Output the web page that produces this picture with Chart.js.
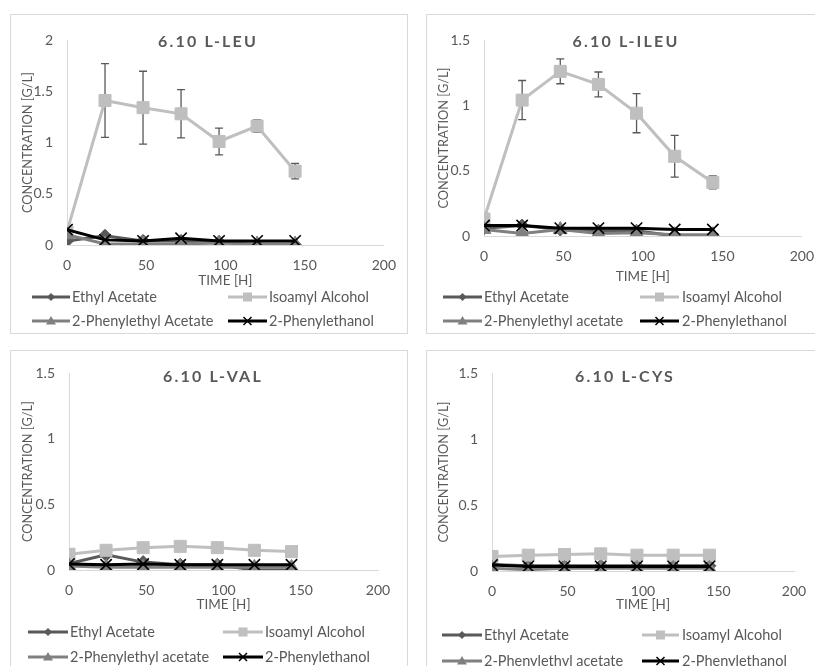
<!DOCTYPE html>
<html>
<head>
<meta charset="utf-8">
<script src="https://cdn.jsdelivr.net/npm/chart.js@4/dist/chart.umd.min.js"></script>
<style>
  body { margin: 0; background: #fff; width: 815px; height: 666px; overflow: hidden; position: relative; }
  .box { position: absolute; border: 1px solid #d9d9d9; box-sizing: border-box; }
  canvas { position: absolute; }
</style>
</head>
<body>
<div class="box" style="left:10px;top:14px;width:398px;height:320px"></div>
<div class="box" style="left:426px;top:14px;width:400px;height:320px"></div>
<div class="box" style="left:10px;top:350px;width:398px;height:330px"></div>
<div class="box" style="left:426px;top:350px;width:400px;height:330px"></div>
<canvas id="c1" width="398" height="320" style="left:10px;top:14px"></canvas>
<canvas id="c2" width="400" height="320" style="left:426px;top:14px"></canvas>
<canvas id="c3" width="398" height="330" style="left:10px;top:350px"></canvas>
<canvas id="c4" width="400" height="330" style="left:426px;top:350px"></canvas>
<script>
const TIMES = [0, 24, 48, 72, 96, 120, 144];
const X_TICKS = [0, 50, 100, 150, 200];

// 6.10 L-LEU
const leuEthylAcetate = [0.04, 0.09, 0.04, 0.04, 0.03, 0.00, 0.00];
const leuIsoamyl = [0.13, 1.41, 1.34, 1.28, 1.01, 1.16, 0.72];
const leuIsoamylErr = [0, 0.36, 0.355, 0.235, 0.13, 0.06, 0.075];
const leuPEAcetate = [0.10, 0.01, 0.01, 0.01, 0.02, 0.01, 0.01];
const leuPhenylethanol = [0.15, 0.05, 0.04, 0.065, 0.04, 0.04, 0.04];

// 6.10 L-ILEU
const ileuEthylAcetate = [0.06, 0.08, 0.05, 0.04, 0.04, 0.00, 0.00];
const ileuIsoamyl = [0.13, 1.04, 1.26, 1.16, 0.94, 0.61, 0.41];
const ileuIsoamylErr = [0, 0.15, 0.095, 0.095, 0.15, 0.16, 0.05];
const ileuPEAcetate = [0.05, 0.02, 0.05, 0.02, 0.025, 0.01, 0.01];
const ileuPhenylethanol = [0.08, 0.08, 0.06, 0.06, 0.06, 0.05, 0.05];

// 6.10 L-VAL
const valEthylAcetate = [0.05, 0.115, 0.06, 0.04, 0.04, 0.00, 0.00];
const valIsoamyl = [0.12, 0.15, 0.17, 0.18, 0.17, 0.15, 0.14];
const valPEAcetate = [0.03, 0.02, 0.02, 0.02, 0.02, 0.02, 0.02];
const valPhenylethanol = [0.045, 0.04, 0.045, 0.04, 0.04, 0.04, 0.04];

// 6.10 L-CYS
const cysEthylAcetate = [0.05, 0.04, 0.04, 0.04, 0.04, 0.04, 0.04];
const cysIsoamyl = [0.11, 0.12, 0.125, 0.13, 0.12, 0.12, 0.12];
const cysPEAcetate = [0.02, 0.01, 0.02, 0.02, 0.02, 0.02, 0.02];
const cysPhenylethanol = [0.045, 0.035, 0.035, 0.035, 0.035, 0.035, 0.035];

const TEXT = '#595959';
const FONT = 'Lato, "Open Sans", sans-serif';

const SERIES_STYLE = [
  { color: '#595959', style: 'rectRot', r: 6.5, order: 3 },
  { color: '#bfbfbf', style: 'rect', r: 8.5, order: 2 },
  { color: '#808080', style: 'triangle', r: 8, order: 1 },
  { color: '#000000', style: 'crossRot', r: 8, order: 0 }
];

function legendMarker(ctx, style, x, y, color) {
  ctx.fillStyle = color;
  ctx.strokeStyle = color;
  ctx.beginPath();
  if (style === 'rectRot') {
    ctx.moveTo(x, y - 4); ctx.lineTo(x + 4, y); ctx.lineTo(x, y + 4); ctx.lineTo(x - 4, y);
    ctx.closePath(); ctx.fill();
  } else if (style === 'rect') {
    ctx.fillRect(x - 4.5, y - 4.5, 9, 9);
  } else if (style === 'triangle') {
    ctx.moveTo(x, y - 5); ctx.lineTo(x + 5, y + 3.5); ctx.lineTo(x - 5, y + 3.5);
    ctx.closePath(); ctx.fill();
  } else {
    ctx.lineWidth = 1.5;
    ctx.moveTo(x - 4, y - 4); ctx.lineTo(x + 4, y + 4);
    ctx.moveTo(x + 4, y - 4); ctx.lineTo(x - 4, y + 4);
    ctx.stroke();
  }
}

const panelDecor = {
  id: 'panelDecor',
  beforeDatasetsDraw(chart, args, o) {
    if (!o.err) return;
    const { ctx, scales: { x, y } } = chart;
    const vals = chart.data.datasets[1].data;
    ctx.save();
    ctx.strokeStyle = TEXT;
    ctx.lineWidth = 1.3;
    o.err.forEach((e, i) => {
      if (!e) return;
      const px = x.getPixelForValue(vals[i].x);
      const top = y.getPixelForValue(vals[i].y + e);
      const bot = y.getPixelForValue(vals[i].y - e);
      ctx.beginPath();
      ctx.moveTo(px, top); ctx.lineTo(px, bot);
      ctx.moveTo(px - 4, top); ctx.lineTo(px + 4, top);
      ctx.moveTo(px - 4, bot); ctx.lineTo(px + 4, bot);
      ctx.stroke();
    });
    ctx.restore();
  },
  afterDraw(chart, args, o) {
    const ctx = chart.ctx;
    ctx.save();
    ctx.fillStyle = TEXT;
    ctx.font = 'bold 16px ' + FONT;
    ctx.textAlign = 'center';
    ctx.textBaseline = 'middle';
    ctx.letterSpacing = '2.2px';
    ctx.fillText(o.title, o.titleX, o.titleY);
    ctx.letterSpacing = '0px';
    ctx.font = '14.5px ' + FONT;
    ctx.textAlign = 'left';
    chart.data.datasets.forEach((ds, i) => {
      const col = o.cols[i % 2];
      const rowY = o.rows[Math.floor(i / 2)];
      const st = SERIES_STYLE[i];
      ctx.strokeStyle = st.color;
      ctx.lineWidth = 3;
      ctx.beginPath();
      ctx.moveTo(col[0], rowY); ctx.lineTo(col[1], rowY);
      ctx.stroke();
      legendMarker(ctx, st.style, (col[0] + col[1]) / 2, rowY, st.color);
      ctx.fillStyle = TEXT;
      ctx.fillText(ds.label, col[2], rowY);
    });
    ctx.restore();
  }
};

function makePanel(id, p) {
  const datasets = p.series.map((vals, i) => {
    const st = SERIES_STYLE[i];
    return {
      label: p.labels[i],
      data: TIMES.map((t, k) => ({ x: t, y: vals[k] })),
      borderColor: st.color,
      backgroundColor: st.color,
      borderWidth: 3,
      pointStyle: st.style,
      pointRadius: st.r,
      pointBorderWidth: st.style === 'crossRot' ? 1.6 : 1,
      pointBorderColor: st.color,
      pointBackgroundColor: st.color,
      order: st.order
    };
  });
  new Chart(document.getElementById(id), {
    type: 'line',
    data: { datasets },
    options: {
      responsive: false,
      animation: false,
      layout: { padding: p.pad },
      plugins: {
        legend: { display: false },
        tooltip: { enabled: false },
        panelDecor: p.decor
      },
      scales: {
        x: {
          type: 'linear', min: 0, max: 200,
          afterBuildTicks: s => { s.ticks = X_TICKS.map(v => ({ value: v })); },
          afterFit: s => { s.height = p.xH; },
          grid: { display: false, drawTicks: false },
          border: { display: true, color: '#d9d9d9', width: 1 },
          ticks: { color: TEXT, font: { family: FONT, size: 14 }, padding: 12, maxRotation: 0 },
          title: { display: true, text: 'TIME [H]', color: TEXT, font: { family: FONT, size: 13.5 }, padding: { top: 0, bottom: p.xTitlePad } }
        },
        y: {
          min: 0, max: p.yMax,
          afterFit: s => { s.width = p.yW; },
          grid: { display: false, drawTicks: false },
          border: { display: true, color: '#d9d9d9', width: 1 },
          ticks: { stepSize: 0.5, color: TEXT, font: { family: FONT, size: 14 }, padding: 14, callback: v => String(v) },
          title: { display: true, text: 'CONCENTRATION [G/L]', color: TEXT, font: { family: FONT, size: 12.8 }, padding: { top: 10, bottom: 0 } }
        }
      }
    },
    plugins: [panelDecor]
  });
}

const LABELS_A = ['Ethyl Acetate', 'Isoamyl Alcohol', '2-Phenylethyl Acetate', '2-Phenylethanol'];
const LABELS_B = ['Ethyl Acetate', 'Isoamyl Alcohol', '2-Phenylethyl acetate', '2-Phenylethanol'];

makePanel('c1', {
  yMax: 2, labels: LABELS_A,
  series: [leuEthylAcetate, leuIsoamyl, leuPEAcetate, leuPhenylethanol],
  pad: { left: 0, top: 26, right: 21, bottom: 44 }, yW: 57, xH: 45, xTitlePad: 1,
  decor: { err: leuIsoamylErr, title: '6.10 L-LEU', titleX: 198, titleY: 28,
    rows: [283, 307], cols: [[22, 60, 62], [218, 257, 259]] }
});
makePanel('c2', {
  yMax: 1.5, labels: LABELS_B,
  series: [ileuEthylAcetate, ileuIsoamyl, ileuPEAcetate, ileuPhenylethanol],
  pad: { left: 0, top: 26, right: 23, bottom: 48 }, yW: 58, xH: 50, xTitlePad: 1,
  decor: { err: ileuIsoamylErr, title: '6.10 L-ILEU', titleX: 200, titleY: 28,
    rows: [283, 307], cols: [[17, 56, 58], [214, 253, 256]] }
});
makePanel('c3', {
  yMax: 1.5, labels: LABELS_B,
  series: [valEthylAcetate, valIsoamyl, valPEAcetate, valPhenylethanol],
  pad: { left: 0, top: 23, right: 30, bottom: 65 }, yW: 59, xH: 45, xTitlePad: 2,
  decor: { title: '6.10 L-VAL', titleX: 203, titleY: 27,
    rows: [282, 307], cols: [[18, 58, 60], [213, 253, 255]] }
});
makePanel('c4', {
  yMax: 1.5, labels: LABELS_B,
  series: [cysEthylAcetate, cysIsoamyl, cysPEAcetate, cysPhenylethanol],
  pad: { left: 0, top: 23, right: 32, bottom: 64 }, yW: 66, xH: 45, xTitlePad: 3,
  decor: { title: '6.10 L-CYS', titleX: 199, titleY: 27,
    rows: [285, 311], cols: [[16, 56, 58], [216, 253, 256]] }
});
</script>
</body>
</html>
